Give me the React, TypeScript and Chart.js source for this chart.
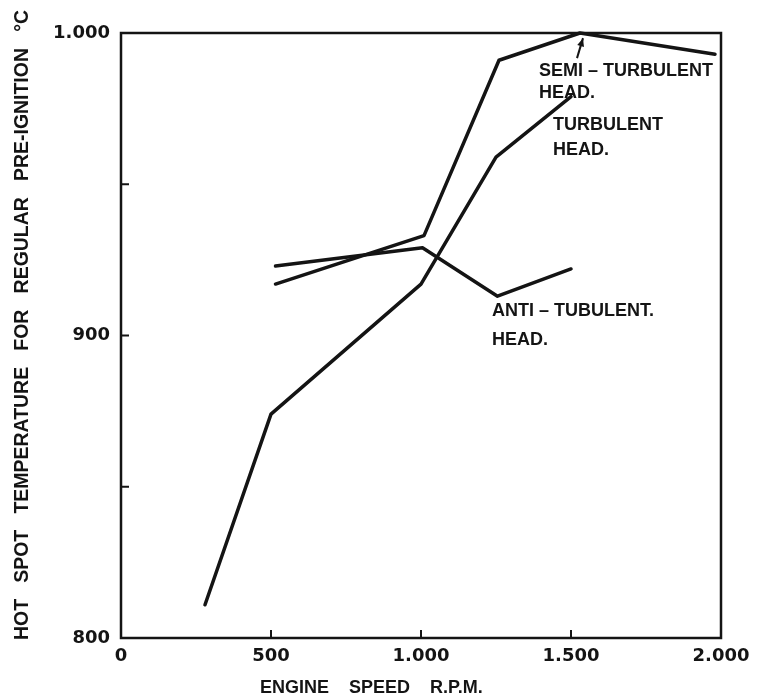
import React, { useEffect, useRef } from 'react';
import { Chart, registerables } from 'chart.js';

Chart.register(...registerables);

// ---- data ----
const turbulentRpm = [280, 500, 1000, 1250, 1500];
const turbulentTemp = [811, 874, 917, 959, 979];

const semiRpm = [515, 1010, 1260, 1530, 1980];
const semiTemp = [917, 933, 991, 1000, 993];

const antiRpm = [515, 1005, 1255, 1500];
const antiTemp = [923, 929, 913, 922];

// ---- ticks ----
const xTickValues = [0, 500, 1000, 1500, 2000];
const yTickValues = [800, 900, 1000];
const yInnerTicks = [850, 900, 950];
const xInnerTicks = [500, 1000, 1500];

// ---- texts ----
const yTitle = 'HOT   SPOT   TEMPERATURE   FOR   REGULAR   PRE-IGNITION   °C';
const xTitle = 'ENGINE    SPEED    R.P.M.';

const labelTexts = ['SEMI – TURBULENT', 'HEAD.', 'TURBULENT', 'HEAD.', 'ANTI – TUBULENT.', 'HEAD.'];
const labelRpm = [1393, 1393, 1440, 1440, 1237, 1237];
const labelTemp = [985.8, 978.5, 967.9, 959.7, 906.4, 896.9];

const arrowRpm = [1520, 1540];
const arrowTemp = [991.7, 998.3];

const INK = '#141414';
const TICK_FONT = { family: '"DejaVu Sans", sans-serif', size: 18, weight: 'bold' as const };
const LABEL_FONT = 'bold 18px "Liberation Sans", Arial, sans-serif';

const fmt = (v: number) => String(Math.round(v)).replace(/\B(?=(\d{3})+(?!\d))/g, '.');

const toPoints = (xs: number[], ys: number[]) => xs.map((x, i) => ({ x, y: ys[i] }));

const decorPlugin = {
  id: 'decor',
  afterDraw(chart: any) {
    const { ctx, chartArea } = chart;
    const xs = chart.scales.x;
    const ys = chart.scales.y;
    ctx.save();
    ctx.strokeStyle = INK;
    ctx.fillStyle = INK;
    // frame
    ctx.lineWidth = 2.5;
    ctx.strokeRect(chartArea.left, chartArea.top, chartArea.right - chartArea.left, chartArea.bottom - chartArea.top);
    // inward ticks
    ctx.lineWidth = 2;
    ctx.beginPath();
    yInnerTicks.forEach((v) => {
      const py = ys.getPixelForValue(v);
      ctx.moveTo(chartArea.left, py);
      ctx.lineTo(chartArea.left + 8, py);
    });
    xInnerTicks.forEach((v) => {
      const px = xs.getPixelForValue(v);
      ctx.moveTo(px, chartArea.bottom);
      ctx.lineTo(px, chartArea.bottom - 8);
    });
    ctx.stroke();

    // axis titles
    ctx.font = 'bold 21px "Liberation Sans", Arial, sans-serif';
    ctx.textAlign = 'center';
    ctx.textBaseline = 'middle';
    ctx.save();
    ctx.translate(22, 325);
    ctx.rotate(-Math.PI / 2);
    ctx.fillText(yTitle, 0, 0, 630);
    ctx.restore();

    ctx.font = 'bold 18px "Liberation Sans", Arial, sans-serif';
    ctx.textAlign = 'left';
    ctx.textBaseline = 'middle';
    ctx.fillText(xTitle, 260, 688);

    // curve labels
    ctx.font = LABEL_FONT;
    ctx.textAlign = 'left';
    ctx.textBaseline = 'alphabetic';
    labelTexts.forEach((t, i) => {
      ctx.fillText(t, xs.getPixelForValue(labelRpm[i]), ys.getPixelForValue(labelTemp[i]));
    });

    // arrow
    const x0 = xs.getPixelForValue(arrowRpm[0]);
    const y0 = ys.getPixelForValue(arrowTemp[0]);
    const x1 = xs.getPixelForValue(arrowRpm[1]);
    const y1 = ys.getPixelForValue(arrowTemp[1]);
    ctx.lineWidth = 2;
    ctx.beginPath();
    ctx.moveTo(x0, y0);
    ctx.lineTo(x1, y1);
    ctx.stroke();
    const ang = Math.atan2(y1 - y0, x1 - x0);
    const hl = 9;
    ctx.beginPath();
    ctx.moveTo(x1, y1);
    ctx.lineTo(x1 - hl * Math.cos(ang - 0.4), y1 - hl * Math.sin(ang - 0.4));
    ctx.lineTo(x1 - hl * Math.cos(ang + 0.4), y1 - hl * Math.sin(ang + 0.4));
    ctx.closePath();
    ctx.fill();
    ctx.restore();
  },
};

export default function App() {
  const canvasRef = useRef<HTMLCanvasElement | null>(null);

  useEffect(() => {
    if (!canvasRef.current) return;
    const lineStyle = {
      borderColor: INK,
      borderWidth: 3.5,
      pointRadius: 0,
      tension: 0,
      fill: false,
      borderCapStyle: 'round' as const,
      borderJoinStyle: 'round' as const,
      clip: 8,
    };
    const chart = new Chart(canvasRef.current, {
      type: 'line',
      data: {
        datasets: [
          { label: 'Turbulent head', data: toPoints(turbulentRpm, turbulentTemp), ...lineStyle },
          { label: 'Semi-turbulent head', data: toPoints(semiRpm, semiTemp), ...lineStyle },
          { label: 'Anti-turbulent head', data: toPoints(antiRpm, antiTemp), ...lineStyle },
        ],
      },
      options: {
        animation: false,
        responsive: true,
        maintainAspectRatio: false,
        layout: { padding: { top: 33, right: 37, left: 0, bottom: 0 } },
        plugins: { legend: { display: false }, tooltip: { enabled: false } },
        scales: {
          x: {
            type: 'linear',
            min: 0,
            max: 2000,
            afterBuildTicks: (s: any) => {
              s.ticks = xTickValues.map((v) => ({ value: v }));
            },
            afterFit: (s: any) => {
              s.height = 59;
            },
            ticks: {
              callback: (v: any) => fmt(Number(v)),
              font: TICK_FONT,
              color: INK,
              padding: 8,
              maxRotation: 0,
              autoSkip: false,
            },
            grid: { display: false, drawTicks: false },
            border: { display: false },
          },
          y: {
            type: 'linear',
            min: 800,
            max: 1000,
            afterBuildTicks: (s: any) => {
              s.ticks = yTickValues.map((v) => ({ value: v }));
            },
            afterFit: (s: any) => {
              s.width = 121;
            },
            ticks: {
              callback: (v: any) => fmt(Number(v)),
              font: TICK_FONT,
              color: INK,
              padding: 11,
              autoSkip: false,
            },
            grid: { display: false, drawTicks: false },
            border: { display: false },
          },
        },
      },
      plugins: [decorPlugin],
    });
    return () => chart.destroy();
  }, []);

  return (
    <div style={{ position: 'fixed', left: 0, top: 0, width: 758, height: 697, background: '#fff' }}>
      <canvas ref={canvasRef} />
    </div>
  );
}
